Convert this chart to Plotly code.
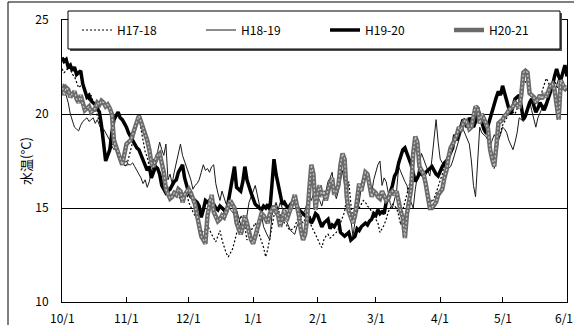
import plotly.graph_objects as go
import pandas as pd

# Daily water temperature, 10/1 .. 6/1 (244 days)
dates = pd.date_range("2006-10-01", "2007-06-01", freq="D")

h17_18 = [
    22.4, 22.2, 22.3, 22.5, 22.4, 22.1, 22.0, 21.7, 21.4, 21.5,
    21.6, 21.2, 20.9, 20.7, 21.0, 20.6, 20.2, 19.9, 19.6, 19.0,
    18.4, 17.55, 17.7, 18.0, 18.3, 18.5, 18.2, 18.0, 17.7, 17.5,
    17.3, 17.2, 17.6, 18.0, 18.5, 19.0, 19.5, 19.95, 19.2, 18.5,
    18.0, 17.7, 17.2, 17.4, 17.6, 17.3, 17.1, 16.8, 16.6, 16.4,
    16.2, 16.1, 16.0, 15.9, 15.8, 15.7, 15.6, 15.5, 15.4, 15.6,
    15.8, 15.3, 15.0, 14.8, 14.6, 14.5, 14.0, 13.6, 13.8, 13.9,
    14.1, 13.8, 13.6, 13.4, 13.2, 13.5, 13.8, 13.3, 12.9, 12.6,
    12.4, 12.6, 12.8, 13.2, 13.6, 14.1, 14.6, 14.3, 14.0, 13.3,
    13.6, 13.8, 14.0, 14.2, 13.9, 13.6, 13.2, 12.9, 12.4, 12.8,
    13.4, 14.0, 14.6, 15.2, 14.9, 14.6, 14.4, 14.2, 14.1, 13.9,
    13.8, 13.9, 14.0, 14.3, 14.6, 14.4, 14.2, 14.4, 14.6, 14.3,
    14.0, 13.8, 13.6, 13.3, 13.1, 12.9, 13.3, 13.5, 13.6, 13.4,
    13.5, 13.6, 13.7, 13.9, 14.2, 14.5, 14.8, 15.6, 16.4, 15.2,
    14.4, 14.6, 14.8, 15.0, 15.2, 15.4, 15.3, 15.1, 15.0, 14.8,
    14.6, 14.4, 14.2, 13.7, 13.9, 14.1, 14.4, 14.8, 15.0, 15.2,
    15.1, 15.0, 14.6, 14.1, 14.9, 15.3, 15.8, 16.2, 16.6, 17.5,
    18.4, 17.9, 17.4, 17.0, 16.6, 16.2, 15.8, 15.5, 15.3, 15.5,
    15.8, 16.1, 16.4, 16.8, 17.3, 17.6, 18.0, 18.2, 18.3, 18.6,
    18.9, 19.2, 19.5, 19.7, 19.8, 19.6, 19.3, 19.4, 19.6, 19.9,
    20.2, 19.9, 19.6, 19.3, 19.0, 18.6, 18.0, 17.5, 17.1, 17.8,
    18.6, 19.0, 19.4, 19.6, 19.8, 20.0, 20.2, 20.1, 20.0, 20.3,
    20.6, 21.2, 21.8, 21.7, 21.6, 21.2, 20.9, 20.7, 20.5, 20.7,
    20.9, 21.2, 21.6, 21.9, 21.7, 21.4, 21.6, 21.8, 21.5, 21.3,
    21.5, 21.7, 21.5, 21.4,
]

h18_19 = [
    21.3, 21.1, 21.0, 20.6, 20.0, 19.6, 19.3, 19.2, 19.1, 19.4,
    19.6, 19.7, 19.8, 19.6, 19.7, 19.8, 19.5, 19.7, 19.4, 19.15,
    19.2, 19.0, 18.8, 18.6, 18.3, 18.1, 18.2, 17.9, 17.7, 17.6,
    17.4, 17.5, 17.3, 17.3, 17.4, 17.2, 17.0, 16.8, 16.6, 16.3,
    16.5, 16.1, 16.4, 16.9, 17.2, 17.6, 18.0, 18.5, 18.1, 17.8,
    18.4, 16.5, 16.8, 16.3, 16.9, 17.4, 17.9, 18.4, 17.8, 17.5,
    17.2, 16.8, 16.5, 16.0, 16.2, 16.3, 16.5, 16.9, 17.3, 17.0,
    17.1, 16.9, 17.2, 17.3, 16.3, 15.8, 15.4, 15.9, 15.6, 15.2,
    15.3, 14.9, 14.8, 14.6, 14.9, 14.5, 14.1, 13.7, 14.2, 14.6,
    15.3, 15.6, 16.0, 16.2, 15.7, 15.2, 14.6, 14.0, 13.7, 13.5,
    13.3, 14.6, 15.0, 15.3, 14.9, 15.3, 15.0, 14.8, 14.3, 14.0,
    13.8, 13.7, 13.6, 14.0, 14.3, 14.5, 14.7, 14.9, 15.3, 15.7,
    15.4, 15.8, 16.1, 15.6, 15.4, 15.1, 15.6, 15.9, 16.4, 16.6,
    16.9, 15.9, 15.5, 15.9, 16.4, 17.0, 16.2, 15.6, 15.1, 14.4,
    13.5, 14.3, 14.8, 15.3, 16.1, 16.5, 17.0, 16.5, 16.1, 15.8,
    16.5, 16.9, 17.3, 17.5, 16.2, 16.6, 16.4, 15.8, 15.2, 15.0,
    15.4, 15.9, 17.2, 16.9, 16.6, 16.4, 16.2, 15.6, 15.3, 15.0,
    16.0, 16.8, 17.4, 17.9, 17.6, 17.2, 16.9, 16.7, 17.6, 18.6,
    19.7, 18.5, 17.6, 17.4, 17.2, 17.0, 17.1, 17.2, 17.5, 17.9,
    18.3, 18.6, 19.0, 19.2, 18.9, 18.6, 18.4, 17.5, 16.2, 15.6,
    17.4, 19.3, 19.0, 18.9, 18.8, 18.6, 18.3, 18.6, 18.9, 18.7,
    18.6, 18.9, 19.3, 19.2, 19.0, 18.6, 18.3, 18.1, 18.5, 19.0,
    19.8, 19.7, 19.6, 20.0, 20.4, 20.7, 20.2, 19.8, 19.3, 19.8,
    20.1, 20.3, 20.5, 20.6, 20.9, 21.1, 21.4, 21.2, 21.5, 21.9,
    21.6, 21.4, 21.2, 21.3,
]

h19_20 = [
    23.0, 22.8, 22.9, 22.5, 22.6, 22.3, 22.5, 22.1, 22.2, 22.3,
    21.6, 21.3, 20.9, 21.0, 20.7, 20.6, 20.5, 20.3, 20.1, 19.4,
    18.6, 17.5, 17.8, 18.1, 19.0, 19.7, 19.9, 20.1, 19.8, 19.7,
    19.5, 19.3, 19.0, 18.8, 18.6, 18.4, 18.2, 18.1, 17.8, 17.5,
    17.3, 17.0, 17.2, 16.6, 16.9, 17.2, 17.1, 16.8, 16.2, 16.0,
    15.8, 15.9, 16.0, 16.2, 16.4, 16.5, 16.9, 17.1, 17.3, 16.6,
    16.1, 15.8, 15.6, 15.5, 15.4, 15.3, 15.1, 14.5, 14.9, 15.4,
    15.3, 15.4, 15.2, 15.2, 15.0, 14.9, 15.1, 15.0, 14.9, 14.7,
    15.3, 16.1, 16.7, 17.2, 16.1, 16.0, 15.9, 16.4, 17.2, 16.5,
    16.1, 15.8, 15.5, 15.2, 15.1, 15.0, 14.9, 15.1, 15.0, 15.2,
    14.9, 16.2, 17.6, 16.8, 16.3, 15.8, 15.2, 15.3, 15.1, 15.0,
    15.2, 15.3, 15.4, 15.1, 14.9, 14.8, 14.7, 14.6, 14.5, 14.5,
    14.2, 14.4, 14.7, 14.6, 14.3, 14.0, 14.2, 14.3, 14.4, 13.9,
    14.1, 14.0, 14.2, 14.4, 13.7, 13.6, 13.5, 13.6, 13.7, 13.3,
    13.4, 13.5, 13.9, 13.8, 14.0, 14.1, 14.2, 14.1, 14.3, 14.4,
    14.7, 14.6, 14.9, 14.7, 14.8, 14.7, 15.3, 15.5, 15.8, 16.2,
    16.7, 16.9, 17.4, 17.8, 18.1, 18.2, 17.9, 17.7, 17.3, 16.85,
    16.4, 16.6, 16.85, 16.8, 16.7, 16.9, 17.0, 17.1, 17.2, 17.0,
    16.8, 16.7, 17.0, 17.2, 17.4, 17.5, 17.7, 18.0, 18.2, 18.9,
    18.6, 19.0, 19.4, 19.7, 19.5, 19.3, 19.8, 19.6, 19.3, 19.6,
    20.3, 19.9, 19.5, 19.2, 19.0, 19.4, 19.8, 20.1, 20.5, 20.9,
    21.2, 21.0, 21.5, 21.1, 20.6, 20.3, 20.0, 20.4, 20.8, 20.9,
    21.0, 20.4, 19.7, 19.9, 20.3, 20.6, 20.8, 20.5, 20.1, 20.3,
    20.6, 20.4, 20.2, 20.5, 20.8, 21.1, 21.5, 22.0, 22.4, 22.0,
    21.8, 22.2, 22.6, 22.0,
]

h20_21 = [
    21.6, 21.0, 21.4, 21.3, 20.9, 21.1, 21.2, 20.8, 20.6, 21.0,
    20.5, 20.2, 20.3, 20.4, 20.1, 20.2, 20.3, 20.6, 20.5, 20.7,
    20.6, 20.4, 20.5, 20.3, 20.0, 18.6, 18.2, 18.0, 17.6, 17.3,
    17.8, 18.4, 18.5, 18.6, 18.9, 19.3, 19.6, 19.9, 19.6, 19.3,
    19.0, 18.6, 18.1, 17.4, 17.2, 17.6, 17.8, 17.9, 17.4, 16.9,
    16.0, 15.7, 15.5, 15.6, 15.8, 15.7, 16.0, 15.9, 15.3, 15.7,
    15.9, 16.0, 15.8, 15.5, 15.2, 14.6, 14.0, 13.5, 13.3, 13.1,
    14.6, 15.3, 15.7, 14.8, 14.5, 14.3, 14.4, 14.6, 14.5, 14.8,
    15.0, 15.4, 15.2, 15.0, 14.2, 13.9, 13.6, 14.0, 14.6, 14.2,
    13.6, 13.3, 13.1, 13.5, 14.0, 14.4, 14.7, 14.6, 14.4, 14.2,
    14.7, 14.9, 15.1, 14.8, 14.6, 14.0, 14.5, 14.9, 14.3, 14.6,
    14.9, 15.3, 15.7, 15.2, 14.6, 13.8, 13.3, 13.6, 14.5, 16.0,
    17.3, 16.8, 14.9, 15.8, 16.2, 15.6, 15.9, 15.4, 16.0, 16.3,
    16.6, 15.7, 15.9, 16.2, 17.3, 17.9, 17.6, 15.6, 14.8, 14.4,
    14.2, 14.6, 15.5, 16.3, 15.9, 16.5, 16.9, 16.8, 16.2, 15.6,
    15.9, 15.8, 15.6, 15.5, 15.9, 15.7, 15.4, 15.5, 15.8, 15.9,
    15.7, 15.9, 15.3, 14.8, 14.5, 13.4, 14.7, 15.4, 16.0, 17.9,
    18.8, 18.5, 17.2, 17.0, 16.8, 16.3, 15.6, 15.0, 15.0, 15.2,
    15.3, 15.7, 15.9, 16.0, 16.6, 17.0, 17.7, 18.2, 18.4, 18.6,
    18.9, 19.3, 19.1, 19.5, 19.7, 19.5, 19.2, 19.3, 20.0, 20.4,
    20.3, 19.5, 20.0, 19.8, 19.5, 19.2, 18.1, 17.6, 17.2, 18.3,
    19.5, 19.6, 19.7, 19.9, 20.0, 20.2, 20.3, 20.4, 20.6, 20.5,
    20.3, 21.0, 22.2, 22.3, 22.2, 21.1, 21.0, 20.9, 20.6, 20.8,
    21.0, 20.8, 21.1, 20.9, 21.2, 21.5, 21.6, 21.3, 20.5, 19.7,
    21.8, 21.6, 21.3, 21.5,
]

series_names = ["H17-18", "H18-19", "H19-20", "H20-21"]
tick_dates = ["2006-10-01", "2006-11-01", "2006-12-01", "2007-01-01", "2007-02-01",
              "2007-03-01", "2007-04-01", "2007-05-01", "2007-06-01"]
tick_labels = ["10/1", "11/1", "12/1", "1/1", "2/1", "3/1", "4/1", "5/1", "6/1"]
y_ticks = [10, 15, 20, 25]

for s in (h17_18, h18_19, h19_20, h20_21):
    assert len(s) == len(dates), len(s)

FONT = "Noto Sans CJK JP, sans-serif"
W, H = 574, 325
ML, MR, MT, MB = 62, 7, 20, 23
PW, PH = W - ML - MR, H - MT - MB


def px_x(x):
    return (x - ML) / PW


def px_y(y):
    return (H - MB - y) / PH


fig = go.Figure()
fig.add_trace(go.Scatter(x=dates, y=h17_18, name=series_names[0], mode="lines",
                         line=dict(color="black", width=1.2, dash="2px,2px")))
fig.add_trace(go.Scatter(x=dates, y=h18_19, name=series_names[1], mode="lines",
                         line=dict(color="#1a1a1a", width=1)))
fig.add_trace(go.Scatter(x=dates, y=h19_20, name=series_names[2], mode="lines",
                         line=dict(color="black", width=3.5)))
fig.add_trace(go.Scatter(x=dates, y=h20_21, name=series_names[3], mode="lines",
                         legendgroup="g4",
                         line=dict(color="#6a6a6a", width=4.5)))
fig.add_trace(go.Scatter(x=dates, y=h20_21, name=series_names[3], mode="lines",
                         legendgroup="g4", showlegend=False, hoverinfo="skip",
                         line=dict(color="#c4c4c4", width=1.3, dash="2px,2px")))

shapes = [
    # chart outer frame
    dict(type="rect", xref="paper", yref="paper",
         x0=px_x(8), x1=px_x(580), y0=px_y(330), y1=px_y(2),
         line=dict(color="black", width=1), fillcolor="rgba(0,0,0,0)", layer="above"),
    # legend shadow
    dict(type="rect", xref="paper", yref="paper",
         x0=px_x(70), x1=px_x(562), y0=px_y(51), y1=px_y(13),
         line=dict(width=0), fillcolor="#505050", layer="above"),
    # legend box
    dict(type="rect", xref="paper", yref="paper",
         x0=px_x(68), x1=px_x(560), y0=px_y(49), y1=px_y(11),
         line=dict(color="black", width=1), fillcolor="white", layer="above"),
]

# x tick labels written as annotations on the axis dates so the last one stays inside the chart
annotations = [dict(text="水温(°C)", xref="paper", yref="paper",
                    x=px_x(25), y=0.5, xanchor="center", yanchor="middle",
                    textangle=-90, showarrow=False,
                    font=dict(family=FONT, size=13, color="black"))]
for i, (d, lab) in enumerate(zip(tick_dates, tick_labels)):
    last = i == len(tick_dates) - 1
    annotations.append(dict(text=lab, xref="x", yref="paper", x=d, y=0,
                            yshift=-5, xshift=-3 if last else 0,
                            xanchor="center", yanchor="top", showarrow=False,
                            font=dict(family=FONT, size=12, color="black")))

fig.update_layout(
    width=W, height=H,
    margin=dict(l=ML, r=MR, t=MT, b=MB, autoexpand=False),
    paper_bgcolor="white", plot_bgcolor="white",
    font=dict(family=FONT, size=12, color="black"),
    shapes=shapes,
    showlegend=True,
    legend=dict(orientation="h", x=px_x(77), y=px_y(30), xanchor="left", yanchor="middle",
                bgcolor="rgba(0,0,0,0)", borderwidth=0,
                entrywidth=79, entrywidthmode="pixels",
                font=dict(family=FONT, size=12, color="black")),
    annotations=annotations,
)

fig.update_xaxes(type="date", range=[tick_dates[0], tick_dates[-1]],
                 tickmode="array", tickvals=tick_dates, showticklabels=False,
                 ticks="inside", ticklen=5, tickcolor="black", tickwidth=1,
                 showline=True, linecolor="black", linewidth=1, mirror=True,
                 showgrid=False, zeroline=False, automargin=False)
fig.update_yaxes(range=[10, 25], tickmode="array", tickvals=y_ticks,
                 ticks="", showline=True, linecolor="black", linewidth=1, mirror=True,
                 showgrid=True, gridcolor="black", gridwidth=1, zeroline=False,
                 ticklabelstandoff=10, automargin=False,
                 tickfont=dict(family=FONT, size=12, color="black"))

fig.write_html("out.html", config={"displayModeBar": False},
               post_script="document.body.style.margin='0';document.body.style.padding='0';")
